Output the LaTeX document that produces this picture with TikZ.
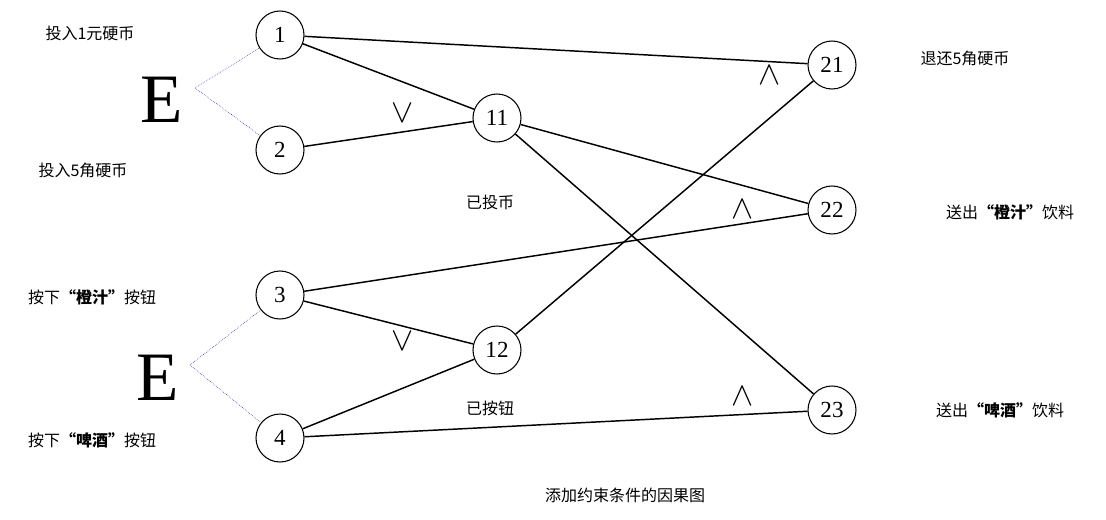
\documentclass[tikz,border=0pt]{standalone}
\usepackage{fontspec}
\setmainfont{Liberation Serif}
\newfontfamily\cjk{Noto Sans CJK SC}
\usetikzlibrary{arrows}

\begin{document}
\begin{tikzpicture}[x=0.75pt,y=-0.75pt,line width=1.1pt,
  main node/.style={circle,fill=white,draw,line width=0.8pt,minimum size=36pt,inner sep=0pt,font=\LARGE},
  text node/.style={font=\cjk\large},
  op node/.style={font=\Huge},
  big node/.style={font=\fontsize{52}{52}\selectfont},
  or line/.style={blue!70!black,densely dotted,thin}]

  \useasboundingbox (0,0) rectangle (1106,519);

  \node[main node] (1) at (280,35) {1};
  \node[main node] (2) at (280,150) {2};
  \node[main node] (3) at (280,295) {3};
  \node[main node] (4) at (280,438) {4};
  \node[main node] (11) at (497,118) {11};
  \node[main node] (12) at (497,350) {12};
  \node[main node] (21) at (832,65) {21};
  \node[main node] (22) at (832,210) {22};
  \node[main node] (23) at (832,410) {23};

  \node[big node] (e1) at (162,100) {E};
  \node[big node] (e2) at (158,378) {E};
  \coordinate (ea) at (195,88);
  \coordinate (eb) at (190,365);

  \node[text node] (t1) at (90,33) {投入1元硬币};
  \node[text node] (t2) at (83,170) {投入5角硬币};
  \node[text node] (t3) at (92,297) {按下\textbf{“橙汁”}按钮};
  \node[text node] (t4) at (92,440) {按下\textbf{“啤酒”}按钮};
  \node[text node] (t11) at (490,202) {已投币};
  \node[text node] (t12) at (490,408) {已按钮};
  \node[text node] (t21) at (965,58) {退还5角硬币};
  \node[text node] (t22) at (1010,212) {送出\textbf{“橙汁”}饮料};
  \node[text node] (t23) at (1000,410) {送出\textbf{“啤酒”}饮料};
  \node[text node] (cap) at (625,495) {添加约束条件的因果图};

  \node[op node] at (403,113) {$\vee$};
  \node[op node] at (403,341) {$\vee$};
  \node[op node] at (770,75) {$\wedge$};
  \node[op node] at (743,209) {$\wedge$};
  \node[op node] at (743,396) {$\wedge$};

  \draw[or line] (ea) -- (1);
  \draw[or line] (ea) -- (2);
  \draw[or line] (eb) -- (3);
  \draw[or line] (eb) -- (4);

  \draw (1) -- (21);
  \draw (1) -- (11);
  \draw (2) -- (11);
  \draw (11) -- (22);
  \draw (11) -- (23);
  \draw (3) -- (22);
  \draw (3) -- (12);
  \draw (4) -- (12);
  \draw (4) -- (23);
  \draw (12) -- (21);

\end{tikzpicture}
\end{document}
